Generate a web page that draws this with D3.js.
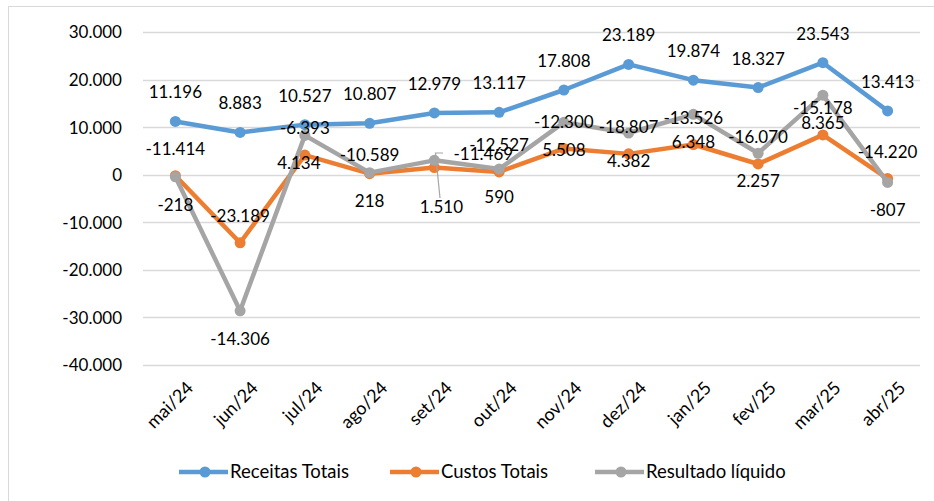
<!DOCTYPE html>
<html>
<head>
<meta charset="utf-8">
<script src="https://cdn.jsdelivr.net/npm/d3@7"></script>
<style>
  body { margin: 0; background: #fff; }
  text { font-family: Lato, "Open Sans", sans-serif; fill: #000; }
</style>
</head>
<body>
<script>
// data
var months = ["mai/24","jun/24","jul/24","ago/24","set/24","out/24","nov/24","dez/24","jan/25","fev/25","mar/25","abr/25"];
var receitas = [11196, 8883, 10527, 10807, 12979, 13117, 17808, 23189, 19874, 18327, 23543, 13413];
var custos = [-11414, -23189, -6393, -10589, -11469, -12527, -12300, -18807, -13526, -16070, -15178, -14220];
var resultado = [-218, -14306, 4134, 218, 1510, 590, 5508, 4382, 6348, 2257, 8365, -807];
var seriesNames = ["Receitas Totais", "Custos Totais", "Resultado líquido"];
var yTicks = [30000, 20000, 10000, 0, -10000, -20000, -30000, -40000];

var w = 934, h = 501;
var colors = ["#5B9BD5", "#ED7D31", "#A5A5A5"];

var svg = d3.select("body").append("svg")
    .attr("width", w)
    .attr("height", h);

// chart frame
svg.append("rect")
    .attr("x", 8.5).attr("y", 6.5)
    .attr("width", 940).attr("height", 500)
    .attr("fill", "none").attr("stroke", "#d9d9d9");

var x = d3.scaleBand().domain(months).range([143, 920]);
var y = d3.scaleLinear().domain([-40000, 30000]).range([365, 32]);
// pt-BR style: dot as thousands separator, plain hyphen for minus
var fmt = function(v) { return d3.format(",")(v).replace(/,/g, ".").replace("\u2212", "-"); };

// gridlines
svg.append("g").selectAll("line")
    .data(yTicks).enter().append("line")
    .attr("x1", 143).attr("x2", 920)
    .attr("y1", function(d) { return Math.round(y(d)) + 0.5; })
    .attr("y2", function(d) { return Math.round(y(d)) + 0.5; })
    .attr("stroke", "#d9d9d9").attr("stroke-width", 1.3);

// y axis labels
var yAxis = d3.axisLeft(y).tickValues(yTicks).tickFormat(fmt).tickSize(0).tickPadding(0);
var gy = svg.append("g").attr("transform", "translate(122,0)").call(yAxis);
gy.select(".domain").remove();
gy.selectAll("text").attr("font-size", 17).attr("font-family", "Lato").attr("dy", "0.35em");

// x axis labels
var xAxis = d3.axisBottom(x).tickSize(0);
var gx = svg.append("g").attr("transform", "translate(0,378)").call(xAxis);
gx.select(".domain").remove();
gx.selectAll("text")
    .attr("font-size", 18).attr("font-family", "Lato")
    .attr("text-anchor", "end")
    .attr("dy", "0.7em")
    .attr("transform", "translate(8,0) rotate(-45)");

// stacked like the original chart
var rows = months.map(function(m, i) {
    return { month: m, r: receitas[i], c: custos[i], l: resultado[i] };
});
var stack = d3.stack().keys(["r", "c", "l"]).offset(d3.stackOffsetNone);
var stacked = stack(rows);

var line = d3.line()
    .x(function(d) { return x(d.data.month) + x.bandwidth() / 2; })
    .y(function(d) { return y(d[1]); });

[0, 1, 2].forEach(function(s) {
    var g = svg.append("g");
    g.append("path")
        .datum(stacked[s])
        .attr("d", line)
        .attr("fill", "none")
        .attr("stroke", colors[s])
        .attr("stroke-width", 4.5)
        .attr("stroke-linejoin", "round");
    g.selectAll("circle")
        .data(stacked[s]).enter().append("circle")
        .attr("cx", function(d) { return x(d.data.month) + x.bandwidth() / 2; })
        .attr("cy", function(d) { return y(d[1]); })
        .attr("r", 5.5)
        .attr("fill", colors[s]);
});

// data labels (actual values, placed like the original)
var values = [receitas, custos, resultado];
var offsets = [-23, -21, 34];
var nudge = { "1-3": [0, 8], "1-4": [49, 13], "2-4": [7, 19], "2-2": [-6, 0] };

// leader line for the moved label
svg.append("path")
    .attr("d", "M443,153 L435.5,153 L440,198")
    .attr("fill", "none").attr("stroke", "#A5A5A5").attr("stroke-width", 1.2);

values.forEach(function(vals, s) {
    svg.append("g").selectAll("text")
        .data(stacked[s]).enter().append("text")
        .attr("x", function(d, i) {
            var n = nudge[s + "-" + i];
            return x(d.data.month) + x.bandwidth() / 2 + (n ? n[0] : 0);
        })
        .attr("y", function(d, i) {
            var n = nudge[s + "-" + i];
            return y(d[1]) + offsets[s] + (n ? n[1] : 0);
        })
        .attr("text-anchor", "middle")
        .attr("font-size", 17)
        .text(function(d, i) { return fmt(vals[i]); });
});

// legend
var legendX = [179, 390, 595];
var legend = svg.append("g").selectAll("g")
    .data(seriesNames).enter().append("g")
    .attr("transform", function(d, i) { return "translate(" + legendX[i] + ",472)"; });
legend.append("line")
    .attr("x1", 0).attr("x2", 49)
    .attr("stroke", function(d, i) { return colors[i]; })
    .attr("stroke-width", 4.5);
legend.append("circle")
    .attr("cx", 26).attr("r", 5.5)
    .attr("fill", function(d, i) { return colors[i]; });
legend.append("text")
    .attr("x", 51).attr("dy", "0.35em")
    .attr("font-size", 18.5)
    .text(function(d) { return d; });
</script>
</body>
</html>
